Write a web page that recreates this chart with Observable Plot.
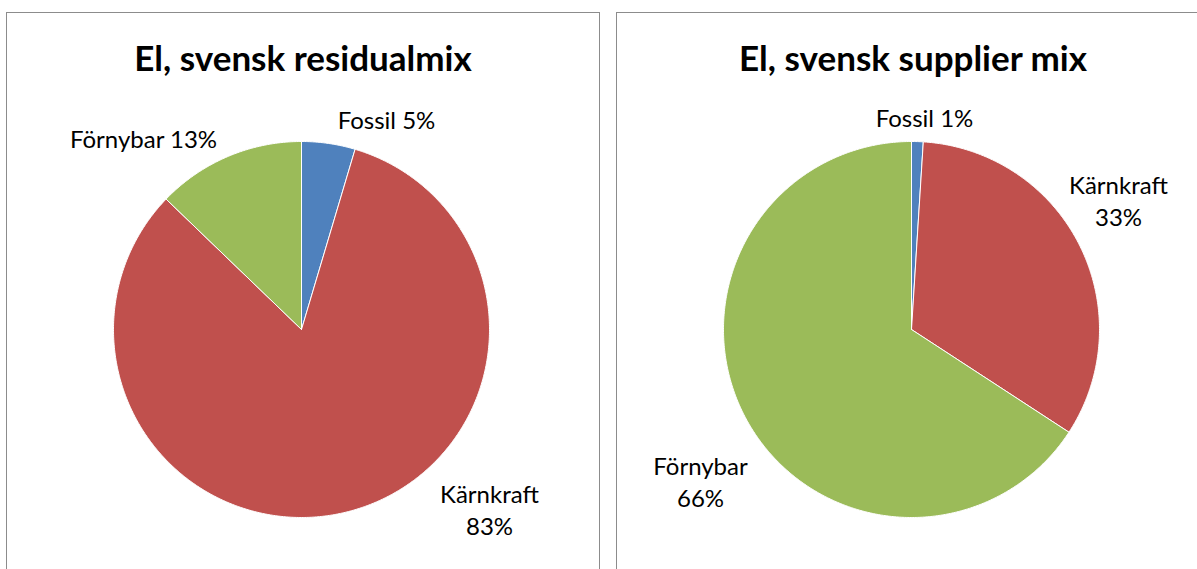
<!DOCTYPE html>
<html>
<head>
<meta charset="utf-8">
<script src="https://cdn.jsdelivr.net/npm/d3@7"></script>
<script src="https://cdn.jsdelivr.net/npm/@observablehq/plot@0.6"></script>
<style>
  html, body { margin: 0; padding: 0; background: #fff; width: 1197px; height: 569px; overflow: hidden; }
  .box { position: absolute; top: 12px; width: 592px; height: 620px; border: 1px solid #8c8c8c; background: #fff; }
  .title { height: 88px; line-height: 88px; text-align: center; font-family: Lato, "Open Sans", sans-serif; font-weight: bold; font-size: 35px; color: #000; }
  svg { display: block; }
</style>
</head>
<body>
<div class="box" id="box1" style="left:6px"><div class="title">El, svensk residualmix</div></div>
<div class="box" id="box2" style="left:616px"><div class="title">El, svensk supplier mix</div></div>
<script>
// ---- data ----
const categories = ["Fossil", "Kärnkraft", "Förnybar"];
const colors = ["#4F81BD", "#C0504D", "#9BBB59"];

const residualTitle = "El, svensk residualmix";
const residualValues = [4.6, 82.6, 12.8];
const residualLabels = ["5%", "83%", "13%"];

const supplierTitle = "El, svensk supplier mix";
const supplierValues = [1.0, 33.2, 65.8];
const supplierLabels = ["1%", "33%", "66%"];

// ---- layout (not data) ----
const R = 188;            // pie radius in px
const W = 592, H = 520;   // svg size inside box, below title
const CX = 294, CY = 228; // pie centre inside svg
const residualLabelLayout = [
  {dx: 85, dy: -211, wrap: false},
  {dx: 188, dy: 179, wrap: true},
  {dx: -158, dy: -192, wrap: false}
];
const supplierLabelLayout = [
  {dx: 13, dy: -213, wrap: false},
  {dx: 207, dy: -130, wrap: true},
  {dx: -211, dy: 151, wrap: true}
];

function slicePoints(values) {
  const arcs = d3.pie().sort(null).value(d => d)(values);
  const pts = [];
  arcs.forEach((a, i) => {
    const cat = categories[i];
    pts.push({cat, x: 0, y: 0});
    const n = Math.max(2, Math.ceil((a.endAngle - a.startAngle) / (Math.PI / 360)));
    for (let k = 0; k <= n; k++) {
      const t = a.startAngle + (a.endAngle - a.startAngle) * k / n;
      pts.push({cat, x: R * Math.sin(t), y: -R * Math.cos(t)});
    }
    pts.push({cat, x: 0, y: 0});
  });
  return pts;
}

function labelRows(labels, layout) {
  return categories.map((c, i) => ({
    text: layout[i].wrap ? `${c}\n${labels[i]}` : `${c} ${labels[i]}`,
    x: layout[i].dx,
    y: layout[i].dy
  }));
}

function pie(values, labels, layout) {
  return Plot.plot({
    width: W,
    height: H,
    margin: 0,
    x: {domain: [-CX, W - CX], range: [0, W], axis: null},
    y: {domain: [-CY, H - CY], range: [0, H], axis: null},
    color: {domain: categories, range: colors},
    style: {background: "transparent", overflow: "visible"},
    marks: [
      Plot.line(slicePoints(values), {
        x: "x", y: "y", z: "cat", fill: "cat",
        stroke: "white", strokeWidth: 1, strokeLinejoin: "round"
      }),
      Plot.text(labelRows(labels, layout), {
        x: "x", y: "y", text: "text",
        fontFamily: "Lato, 'Open Sans', sans-serif",
        fontSize: 24, lineHeight: 1.33, fill: "#000",
        textAnchor: "middle", lineAnchor: "middle"
      })
    ]
  });
}

document.getElementById("box1").appendChild(pie(residualValues, residualLabels, residualLabelLayout));
document.getElementById("box2").appendChild(pie(supplierValues, supplierLabels, supplierLabelLayout));
</script>
</body>
</html>
